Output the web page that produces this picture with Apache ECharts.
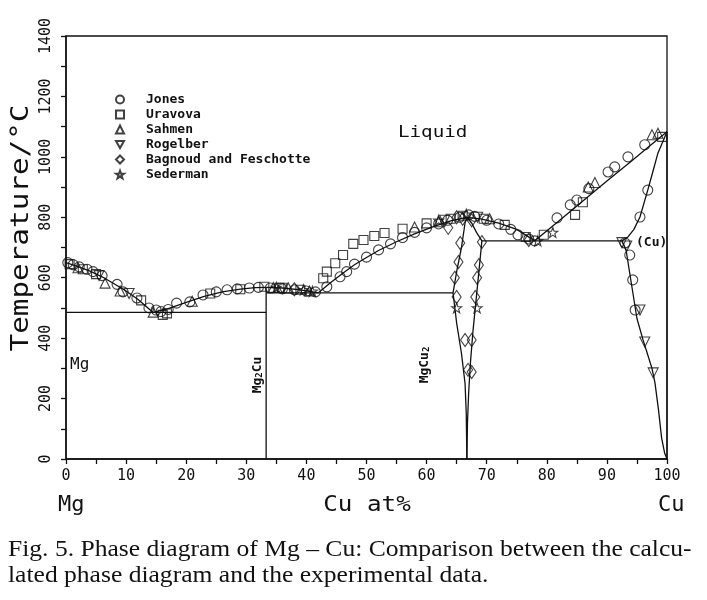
<!DOCTYPE html>
<html><head><meta charset="utf-8">
<script src="https://cdn.jsdelivr.net/npm/echarts@6/dist/echarts.min.js"></script>
<style>html,body{margin:0;padding:0;background:#fff}#c{width:707px;height:600px}</style>
</head><body><div id="c"></div>
<script>
// ---- tick labels ----
var xTicks = [0,10,20,30,40,50,60,70,80,90,100];
var yTicks = [0,200,400,600,800,1000,1200,1400];

// ---- calculated phase boundaries [Cu at%, T/°C] ----
var liqMg      = [[0,650],[2,637],[4,622],[6,603],[8,580],[10,556],[12,528],[14.5,485]];
var liqMg2CuL  = [[14.5,485],[17,498],[20,518],[23,538],[26,553],[29,562],[31.5,567],[33.3,568]];
var liqMg2CuR  = [[33.3,568],[36,566],[39,560],[42,550]];
var liqMgCu2L  = [[42,550],[44,583],[46,614],[48,643],[50,667],[52,690],[55,719],[58,745],[61,768],[64,788],[66.7,800]];
var liqMgCu2R  = [[66.7,800],[69,795],[72,781],[75,760],[78,722]];
var liqCu      = [[78,722],[82,788],[86,854],[90,920],[94,985],[97,1034],[100,1083]];
var eut1       = [[0,485],[33.3,485]];
var eut2       = [[33.3,550],[64.4,550]];
var eut3       = [[69.2,722],[92.5,722]];
var mg2cuLine  = [[33.3,0],[33.3,568]];
var mgcu2Left  = [[66.7,800],[66.4,781],[65.8,700],[65.0,620],[64.4,550],[65.0,450],[65.8,350],[66.4,250],[66.6,150],[66.7,0]];
var mgcu2Right = [[66.7,800],[67.5,781],[68.3,750],[69.2,722],[68.7,620],[68.2,520],[67.7,420],[67.3,320],[67.0,220],[66.8,120],[66.7,0]];
var cuSolidus  = [[100,1083],[99.3,1050],[98.5,1013],[97.7,955],[96.8,890],[95.5,801],[94.5,760],[93.5,735],[92.5,722]];
var cuSolvus   = [[92.5,722],[93.2,690],[94,590],[95,465],[96,395],[96.7,351],[97.5,300],[98,252],[98.6,160],[99.1,70],[99.6,20],[100,0]];
var cuLine     = [[100,0],[100,1083]];

// ---- experimental data ----
var jones = [[0.3,650],[1.2,643],[2.2,636],[3.5,628],[4.5,620],[6,607],[8.5,578],[9.5,553],[11.8,533],[13.8,500],[15,493],[15.8,488],[17,495],[18.4,516],[20.6,520],[22.8,543],[25,553],[26.8,560],[28.5,563],[30.5,566],[32,568],[34,566],[36,563],[38,560],[40,556],[41.5,553],[43.4,570],[45.6,603],[46.7,620],[48,645],[50,668],[52,692],[54,712],[56,733],[58,750],[60,765],[62,778],[63.5,790],[65.5,800],[67,808],[68,803],[70,790],[72,778],[74,760],[75.2,742],[77,728],[78,722],[81.7,798],[83.9,841],[85,857],[87,895],[90.2,950],[91.3,967],[93.5,1000],[96.3,1040],[96.8,890],[95.5,801],[93,715],[93.8,675],[94.3,593],[94.7,493]];
var uravova = [[0.6,645],[2.8,628],[5,612],[12.5,525],[16.1,477],[16.8,482],[24,548],[29,562],[33,570],[35.5,567],[39,560],[42.8,598],[43.4,620],[44.8,648],[46.1,675],[47.8,712],[49.5,725],[51.3,738],[53,748],[56,762],[60,780],[64,795],[66,805],[69.5,795],[73,775],[76.5,735],[79.5,742],[84.7,808],[86,850],[99.2,1066]];
var sahmen = [[2,633],[6.5,582],[9,556],[14.5,486],[21,522],[34.5,568],[37,566],[40.5,556],[58,768],[62,785],[70.5,795],[86.9,900],[88,915],[97.5,1073],[98.5,1078]];
var rogelber = [[5.5,607],[10.5,548],[36,565],[63,790],[68.5,800],[92.5,716],[93.3,705],[95.5,493],[96.3,387],[97.7,285]];
var bagnoud = [[63.6,765],[65.6,715],[65.3,652],[64.7,600],[65.0,536],[66.4,394],[66.9,295],[69.2,718],[68.7,642],[68.4,600],[68.1,536],[67.5,394],[67.5,288],[66,795],[67.5,790],[65,800],[38,562],[77,725]];
var sederman = [[35,568],[39.5,560],[41,555],[65,500],[68.4,500],[62,790],[66.6,810],[78.5,722],[81,750]];

var MONO = 'DejaVu Sans Mono';
var STAR = 'path://M0,-10 L2.35,-3.24 L9.51,-3.09 L3.8,1.24 L5.88,8.09 L0,4 L-5.88,8.09 L-3.8,1.24 L-9.51,-3.09 L-2.35,-3.24 Z';
var DTRI = 'path://M-5,-4 L5,-4 L0,5 Z';

function lineS(d){
  return {type:'line', data:d, showSymbol:false, symbol:'none', silent:true, legendHoverLink:false,
    lineStyle:{color:'#111', width:1.3}, z:2, animation:false};
}
function scat(name, d, sym, size){
  return {type:'scatter', name:name, data:d, symbol:sym, symbolSize:size, animation:false,
    itemStyle:{color:'rgba(255,255,255,0)', borderColor:'#111', borderWidth:1.1}, z:3};
}

var chart = echarts.init(document.getElementById('c'), null, {renderer:'canvas'});
chart.setOption({
  backgroundColor:'#fff',
  animation:false,
  grid:{left:66, right:40, top:36, bottom:141, show:true, borderColor:'#111', borderWidth:1.3, backgroundColor:'transparent'},
  legend:{
    orient:'vertical', left:110, top:88, itemWidth:8, itemHeight:8, itemGap:2,
    data:['Jones','Uravova','Sahmen','Rogelber','Bagnoud and Feschotte','Sederman'],
    textStyle:{fontFamily:MONO, fontSize:13, color:'#111', fontWeight:'bold', padding:[0,0,0,17]},
    selectedMode:false
  },
  xAxis:{
    type:'value', min:0, max:100, interval:10,
    axisLine:{lineStyle:{color:'#111', width:1.5}},
    axisTick:{show:true, length:5, lineStyle:{color:'#111', width:1.3}},
    minorTick:{show:true, splitNumber:2, length:5, lineStyle:{color:'#111', width:1.3}},
    splitLine:{show:false},
    axisLabel:{fontFamily:MONO, fontSize:15, color:'#111', margin:10,
      formatter:function(v){return xTicks.indexOf(v)>=0 ? String(v) : '';}}
  },
  yAxis:{
    type:'value', min:0, max:1400, interval:200,
    axisLine:{show:true, lineStyle:{color:'#111', width:1.5}},
    axisTick:{show:true, length:5, lineStyle:{color:'#111', width:1.3}},
    minorTick:{show:true, splitNumber:2, length:5, lineStyle:{color:'#111', width:1.3}},
    splitLine:{show:false},
    axisLabel:{fontFamily:MONO, fontSize:15, color:'#111', rotate:90, margin:12,
      formatter:function(v){return yTicks.indexOf(v)>=0 ? String(v) : '';}}
  },
  series:[
    lineS(liqMg), lineS(liqMg2CuL), lineS(liqMg2CuR), lineS(liqMgCu2L), lineS(liqMgCu2R), lineS(liqCu),
    lineS(eut1), lineS(eut2), lineS(eut3), lineS(mg2cuLine), lineS(mgcu2Left), lineS(mgcu2Right),
    lineS(cuSolidus), lineS(cuSolvus), lineS(cuLine),
    scat('Jones', jones, 'circle', 10),
    scat('Uravova', uravova, 'rect', 9),
    scat('Sahmen', sahmen, 'triangle', 10),
    scat('Rogelber', rogelber, DTRI, 10),
    scat('Bagnoud and Feschotte', bagnoud, 'diamond', [9,13]),
    scat('Sederman', sederman, STAR, 10)
  ],
  graphic:[
    {type:'text', x:22, y:228, rotation:Math.PI/2, scaleX:1.22, style:{text:'Temperature/°C', font:'24px "DejaVu Sans Mono"', fill:'#111', align:'center', verticalAlign:'middle'}},
    {type:'text', x:398, y:133, scaleX:1.2, style:{text:'Liquid', font:'16px "DejaVu Sans Mono"', fill:'#111', verticalAlign:'middle'}},
    {type:'text', left:70, top:357, style:{text:'Mg', font:'16px "DejaVu Sans Mono"', fill:'#111'}},
    {type:'text', left:636, top:236, style:{text:'(Cu)', font:'bold 13px "DejaVu Sans Mono"', fill:'#111'}},
    {type:'text', x:258, y:375, rotation:Math.PI/2, style:{
      text:'{a|Mg}{b|2}{a|Cu}', align:'center', verticalAlign:'middle',
      rich:{a:{font:'bold 13px "DejaVu Sans Mono"', fill:'#111', verticalAlign:'bottom'}, b:{font:'bold 9px "DejaVu Sans Mono"', fill:'#111', verticalAlign:'bottom'}}}},
    {type:'text', x:425, y:365, rotation:Math.PI/2, style:{
      text:'{a|MgCu}{b|2}', align:'center', verticalAlign:'middle',
      rich:{a:{font:'bold 13px "DejaVu Sans Mono"', fill:'#111', verticalAlign:'bottom'}, b:{font:'bold 9px "DejaVu Sans Mono"', fill:'#111', verticalAlign:'bottom'}}}},
    {type:'text', x:58, y:505, style:{text:'Mg', font:'22px "DejaVu Sans Mono"', fill:'#111', verticalAlign:'middle'}},
    {type:'text', x:367, y:505, scaleX:1.1, style:{text:'Cu at%', font:'22px "DejaVu Sans Mono"', fill:'#111', align:'center', verticalAlign:'middle'}},
    {type:'text', x:658, y:505, style:{text:'Cu', font:'22px "DejaVu Sans Mono"', fill:'#111', verticalAlign:'middle'}},
    {type:'text', x:8, y:550, scaleX:1.065, style:{text:'Fig. 5. Phase diagram of Mg – Cu: Comparison between the calcu-', font:'24px "Liberation Serif"', fill:'#111', verticalAlign:'middle'}},
    {type:'text', x:8, y:576, scaleX:1.065, style:{text:'lated phase diagram and the experimental data.', font:'24px "Liberation Serif"', fill:'#111', verticalAlign:'middle'}}
  ]
});
</script></body></html>
